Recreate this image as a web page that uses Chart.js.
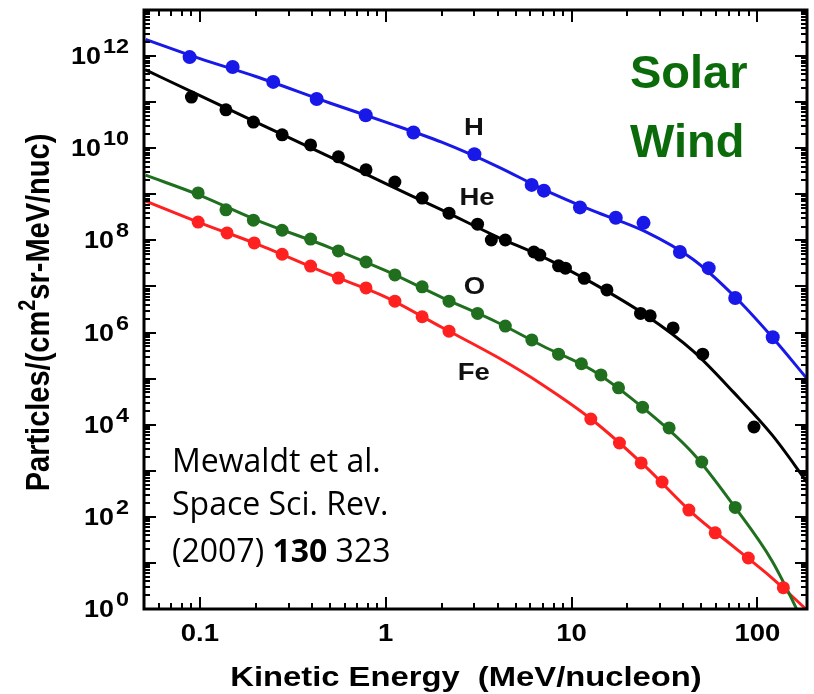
<!DOCTYPE html>
<html>
<head>
<meta charset="utf-8">
<title>Solar Wind particle spectra</title>
<script src="https://cdn.jsdelivr.net/npm/chart.js@4.4.1/dist/chart.umd.min.js"></script>
<style>
  html, body { margin: 0; padding: 0; background: #fff; }
</style>
</head>
<body>
<canvas id="myChart" width="814" height="694"></canvas>
<script>
const curveEnergy = [0.051, 0.1, 0.2, 0.5, 1, 2, 4, 7, 13, 25, 45, 75, 120, 185];

// Fitted curves, particles/(cm2 sr MeV/nuc)
const hFit  = [2.3e12, 8.8e11, 3.6e11, 9.6e10, 3.7e10, 1.35e10, 4.0e9, 1.3e9, 4.4e8, 1.55e8, 3.9e7, 6.2e6, 8.0e5, 1.0e5];
const heFit = [5.0e11, 1.39e11, 3.7e10, 6.5e9, 1.7e9, 4.6e8, 1.18e8, 4.4e7, 1.18e7, 2.4e6, 4.0e5, 4.9e4, 6.0e3, 5.7e2];
const oFit  = [2.6e9, 9.5e8, 2.8e8, 7.0e7, 2.2e7, 5.8e6, 1.65e6, 5.1e5, 1.5e5, 2.1e4, 2.4e3, 1.7e2, 11, 0.35];
const feFit = [7.1e8, 2.4e8, 8.5e7, 1.8e7, 5.9e6, 1.3e6, 2.9e5, 7.3e4, 1.25e4, 1.23e3, 1.18e2, 22, 4.7, 0.95];

// Measured points
const hEnergy = [0.088, 0.15, 0.248, 0.425, 0.78, 1.41, 3.0, 6.1, 7.1, 11.1, 17.3, 24.4, 38.3, 54.7, 76, 121];
const hFlux   = [9.5e11, 5.8e11, 2.75e11, 1.17e11, 5.2e10, 2.2e10, 7.4e9, 1.6e9, 1.2e9, 5.2e8, 3.1e8, 2.4e8, 5.6e7, 2.5e7, 5.6e6, 7.9e5];

const heEnergy = [0.09, 0.138, 0.194, 0.277, 0.394, 0.556, 0.783, 1.12, 1.57, 2.19, 3.12, 3.7, 4.4, 6.27, 6.75, 8.51, 9.27, 11.7, 15.5, 23.5, 26.5, 35.2, 50.8, 95.9];
const heFlux   = [1.29e11, 6.8e10, 3.7e10, 1.95e10, 1.18e10, 6.5e9, 3.4e9, 1.85e9, 8.3e8, 3.9e8, 2.25e8, 1.02e8, 1.02e8, 5.6e7, 4.8e7, 2.8e7, 2.5e7, 1.5e7, 8.4e6, 2.6e6, 2.3e6, 1.26e6, 3.4e5, 8.9e3];

const oEnergy = [0.0978, 0.138, 0.194, 0.277, 0.394, 0.556, 0.783, 1.12, 1.57, 2.19, 3.12, 4.4, 6.11, 8.51, 11.3, 14.4, 17.9, 24.1, 33.5, 50.2, 76];
const oFlux   = [1.07e9, 4.6e8, 2.75e8, 1.66e8, 1.07e8, 5.9e7, 3.4e7, 1.78e7, 9.8e6, 4.8e6, 2.6e6, 1.38e6, 6.9e5, 3.4e5, 2.1e5, 1.2e5, 6.3e4, 2.4e4, 8.5e3, 1.55e3, 1.6e2];

const feEnergy = [0.0978, 0.14, 0.196, 0.277, 0.394, 0.556, 0.783, 1.12, 1.57, 2.19, 12.7, 18.1, 23.7, 30.7, 42.8, 59.3, 89.4, 138];
const feFlux   = [2.5e8, 1.45e8, 8.8e7, 5.0e7, 2.77e7, 1.52e7, 9.3e6, 4.8e6, 2.2e6, 1.07e6, 1.33e4, 4.0e3, 1.48e3, 5.7e2, 1.4e2, 45, 12.8, 2.9];

// Species labels placed in data space (energy, flux at text centre)
const speciesNames  = ['H', 'He', 'O', 'Fe'];
const speciesEnergy = [2.98, 3.1, 3.0, 2.98];
const speciesFlux   = [2.9e10, 9.1e8, 1.07e7, 1.46e5];

const xTickLabels = ['0.1', '1', '10', '100'];
const yTickExponents = [0, 2, 4, 6, 8, 10, 12];

const colH = '#1818e8';
const colHe = '#000000';
const colO = '#1f6f1f';
const colFe = '#ff2020';

const FONT = '"Liberation Sans", Arial, sans-serif';
const SX = 1.17; // the original figure is stretched sideways

const pairs = (xs, ys) => xs.map((v, i) => ({ x: v, y: ys[i] }));

function curve(ys, color) {
  return {
    data: pairs(curveEnergy, ys),
    showLine: true,
    borderColor: color,
    borderWidth: 3,
    pointRadius: 0,
    cubicInterpolationMode: 'monotone',
    clip: 0,
    order: 2
  };
}

function dots(xs, ys, color, r) {
  return {
    data: pairs(xs, ys),
    showLine: false,
    backgroundColor: color,
    borderWidth: 0,
    pointRadius: r,
    order: 1
  };
}

function drawText(ctx, str, x, y, font, color, align, sx) {
  ctx.save();
  ctx.font = font;
  ctx.fillStyle = color;
  ctx.textAlign = align || 'left';
  ctx.textBaseline = 'alphabetic';
  ctx.translate(x, y);
  ctx.scale(sx || 1, 1);
  ctx.fillText(str, 0, 0);
  ctx.restore();
}

// 1..9 x 10^n tick values inside [min, max]
function logTicks(min, max) {
  const out = [];
  for (let d = Math.floor(Math.log10(min)); d <= Math.ceil(Math.log10(max)); d++) {
    for (let m = 1; m <= 9; m++) {
      const v = m * Math.pow(10, d);
      if (v >= min * 0.999 && v <= max * 1.001) out.push({ v: v, major: m === 1 });
    }
  }
  return out;
}

const framePlugin = {
  id: 'frame',
  afterDraw(chart) {
    const { ctx, chartArea: a, scales: { x, y } } = chart;
    ctx.save();
    ctx.strokeStyle = '#000';

    // inward ticks on all four sides
    ctx.lineWidth = 2;
    ctx.beginPath();
    logTicks(x.min, x.max).forEach(t => {
      const px = Math.round(x.getPixelForValue(t.v));
      const len = t.major ? 12 : 6;
      ctx.moveTo(px, a.bottom); ctx.lineTo(px, a.bottom - len);
      ctx.moveTo(px, a.top); ctx.lineTo(px, a.top + len);
    });
    logTicks(y.min, y.max).forEach(t => {
      const py = Math.round(y.getPixelForValue(t.v));
      const len = t.major ? 12 : 6;
      ctx.moveTo(a.left, py); ctx.lineTo(a.left + len, py);
      ctx.moveTo(a.right, py); ctx.lineTo(a.right - len, py);
    });
    ctx.stroke();

    ctx.lineWidth = 3;
    ctx.strokeRect(a.left, a.top, a.right - a.left, a.bottom - a.top);

    // y tick labels as 10 with a raised exponent
    yTickExponents.forEach(e => {
      const py = y.getPixelForValue(Math.pow(10, e));
      const expFont = 'bold 20px ' + FONT;
      ctx.font = expFont;
      const ew = ctx.measureText(String(e)).width * SX;
      drawText(ctx, String(e), 129, py - 3, expFont, '#000', 'right', SX);
      drawText(ctx, '10', 129 - ew - 2, py + 8, 'bold 23px ' + FONT, '#000', 'right', SX);
    });

    // x tick labels
    xTickLabels.forEach(l => {
      const px = x.getPixelForValue(parseFloat(l));
      drawText(ctx, l, px, 641, 'bold 23.5px ' + FONT, '#000', 'center', SX);
    });

    // axis titles
    drawText(ctx, 'Kinetic Energy  (MeV/nucleon)', 466, 686, 'bold 28px ' + FONT, '#000', 'center', SX);

    ctx.save();
    ctx.translate(49, (a.top + a.bottom) / 2 + 3);
    ctx.rotate(-Math.PI / 2);
    ctx.scale(1, SX);
    ctx.fillStyle = '#000';
    ctx.textBaseline = 'alphabetic';
    const big = 'bold 29px ' + FONT, small = 'bold 20px ' + FONT;
    const parts = [['Particles/(cm', big, 0], ['2', small, -12], ['sr-MeV/nuc)', big, 0]];
    let total = 0;
    parts.forEach(p => { ctx.font = p[1]; total += ctx.measureText(p[0]).width; });
    let cx = -total / 2;
    parts.forEach(p => {
      ctx.font = p[1];
      ctx.fillText(p[0], cx, p[2]);
      cx += ctx.measureText(p[0]).width;
    });
    ctx.restore();

    // species labels
    speciesNames.forEach((s, i) => {
      const px = x.getPixelForValue(speciesEnergy[i]);
      const py = y.getPixelForValue(speciesFlux[i]);
      drawText(ctx, s, px, py + 8.5, 'bold 23.5px ' + FONT, '#111', 'center', SX);
    });

    // overlays
    drawText(ctx, 'Solar', 630, 88, 'bold 47px ' + FONT, '#0b6b0b', 'left', 1);
    drawText(ctx, 'Wind', 630, 157, 'bold 47px ' + FONT, '#0b6b0b', 'left', 1);

    const cite = '32px "Open Sans", sans-serif';
    const citeB = 'bold 32px "Open Sans", sans-serif';
    drawText(ctx, 'Mewaldt et al.', 172, 472, cite, '#000', 'left', 1);
    drawText(ctx, 'Space Sci. Rev.', 172, 515, cite, '#000', 'left', 1);
    let cx2 = 172;
    [['(2007) ', cite], ['130', citeB], [' 323', cite]].forEach(p => {
      drawText(ctx, p[0], cx2, 562, p[1], '#000', 'left', 1);
      ctx.font = p[1];
      cx2 += ctx.measureText(p[0]).width;
    });

    ctx.restore();
  }
};

const myChart = document.getElementById('myChart');

let spectraChart = new Chart(myChart, {
  type: 'scatter',
  data: {
    datasets: [
      dots(hEnergy, hFlux, colH, 7),
      dots(heEnergy, heFlux, colHe, 6.5),
      dots(oEnergy, oFlux, colO, 6.5),
      dots(feEnergy, feFlux, colFe, 6.5),
      curve(hFit, colH),
      curve(heFit, colHe),
      curve(oFit, colO),
      curve(feFit, colFe)
    ]
  },
  options: {
    responsive: false,
    animation: false,
    layout: { padding: { top: 10, right: 1, left: 0, bottom: 0 } },
    plugins: {
      legend: { display: false },
      tooltip: { enabled: false }
    },
    scales: {
      x: {
        type: 'logarithmic',
        min: 0.05,
        max: 185,
        grid: { display: false },
        border: { display: false },
        ticks: { display: false },
        afterFit: s => { s.height = 85; }
      },
      y: {
        type: 'logarithmic',
        min: 1,
        max: 1e13,
        grid: { display: false },
        border: { display: false },
        ticks: { display: false },
        afterFit: s => { s.width = 144; }
      }
    }
  },
  plugins: [framePlugin]
});
</script>
</body>
</html>
